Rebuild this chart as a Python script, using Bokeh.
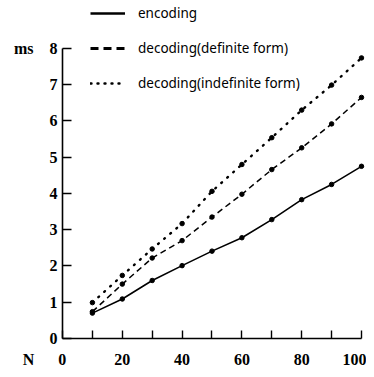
from bokeh.plotting import figure
from bokeh.models import (Range1d, FixedTicker, Legend, LegendItem,
                          ColumnDataSource)
from bokeh.embed import file_html
from bokeh.resources import INLINE

# ---- data ----
n_values = [10, 20, 30, 40, 50, 60, 70, 80, 90, 100]
encoding = [0.70, 1.09, 1.60, 2.01, 2.41, 2.78, 3.28, 3.83, 4.25, 4.75]
decoding_definite = [0.74, 1.50, 2.22, 2.70, 3.35, 3.98, 4.66, 5.26, 5.92, 6.65]
decoding_indefinite = [0.99, 1.74, 2.47, 3.17, 4.06, 4.80, 5.54, 6.30, 6.99, 7.74]

x_label_ticks = [0, 20, 40, 60, 80, 100]
x_minor_ticks = [10, 30, 50, 70, 90]
y_ticks = [0, 1, 2, 3, 4, 5, 6, 7, 8]

x_unit_label = "N"
y_unit_label = "ms"
series_names = ["encoding", "decoding(definite form)", "decoding(indefinite form)"]

NB = "\u00a0"

src = ColumnDataSource(dict(n=n_values, enc=encoding, ddef=decoding_definite,
                            dind=decoding_indefinite))

p = figure(width=366, height=369, output_backend="svg", toolbar_location=None,
           x_range=Range1d(0, 101.34), y_range=Range1d(0, 9.324),
           frame_width=303, frame_height=338,
           min_border_left=62, min_border_right=1, min_border_top=0,
           min_border_bottom=31)
p.outline_line_color = None
p.xgrid.visible = False
p.ygrid.visible = False
p.background_fill_color = "white"

# axes
xa = p.xaxis[0]
xa.ticker = FixedTicker(ticks=x_label_ticks, minor_ticks=x_minor_ticks)
xa.bounds = (0, 100)
xa.major_tick_in = 8
xa.major_tick_out = 0
xa.minor_tick_in = 8
xa.minor_tick_out = 0
xa.axis_line_width = 1.6
xa.major_tick_line_width = 1.4
xa.minor_tick_line_width = 1.4
xa.major_label_standoff = 12
xa.major_label_text_font = "Liberation Serif"
xa.major_label_text_font_style = "bold"
xa.major_label_text_font_size = "16px"
xa.major_label_text_color = "black"
xa.major_label_overrides = {0: x_unit_label + NB * 6 + "0" + NB * 9}

ya = p.yaxis[0]
ya.ticker = FixedTicker(ticks=y_ticks, minor_ticks=[])
ya.bounds = (0, 8)
ya.major_tick_in = 9
ya.major_tick_out = 0
ya.minor_tick_line_color = None
ya.axis_line_width = 1.6
ya.major_tick_line_width = 1.4
ya.major_label_standoff = 5
ya.major_label_text_font = "Liberation Serif"
ya.major_label_text_font_style = "bold"
ya.major_label_text_font_size = "16px"
ya.major_label_text_color = "black"
ya.major_label_overrides = {8: y_unit_label + NB * 4 + "8"}

# data lines
r_enc = p.line("n", "enc", source=src, line_color="black", line_width=1.6)
r_def = p.line("n", "ddef", source=src, line_color="black", line_width=1.5,
               line_dash="6 4")
r_ind = p.line("n", "dind", source=src, line_color="black", line_width=2.4,
               line_dash="1 7", line_cap="round")
for col in ["enc", "ddef", "dind"]:
    p.scatter("n", col, source=src, size=4.5, color="black")

# hidden twins used only to give the legend heavier sample strokes
k1 = p.line("n", "enc", source=src, line_color="black", line_width=2.6,
            visible=False)
k2 = p.line("n", "ddef", source=src, line_color="black", line_width=3,
            line_dash="8 5", visible=False)
k3 = p.line("n", "dind", source=src, line_color="black", line_width=2.4,
            line_dash="1 6", line_cap="round", visible=False)

legend = Legend(items=[LegendItem(label=series_names[0], renderers=[k1]),
                       LegendItem(label=series_names[1], renderers=[k2]),
                       LegendItem(label=series_names[2], renderers=[k3])],
                location=(28, 246), glyph_width=35, glyph_height=18,
                label_height=18, spacing=17, padding=0, margin=0,
                label_standoff=13, border_line_color=None,
                background_fill_alpha=0, inactive_fill_alpha=0,
                label_text_font="Noto Sans", label_text_font_size="13.5px",
                label_text_color="black")
p.add_layout(legend, "center")

open("out.html", "w").write(file_html(p, INLINE))
